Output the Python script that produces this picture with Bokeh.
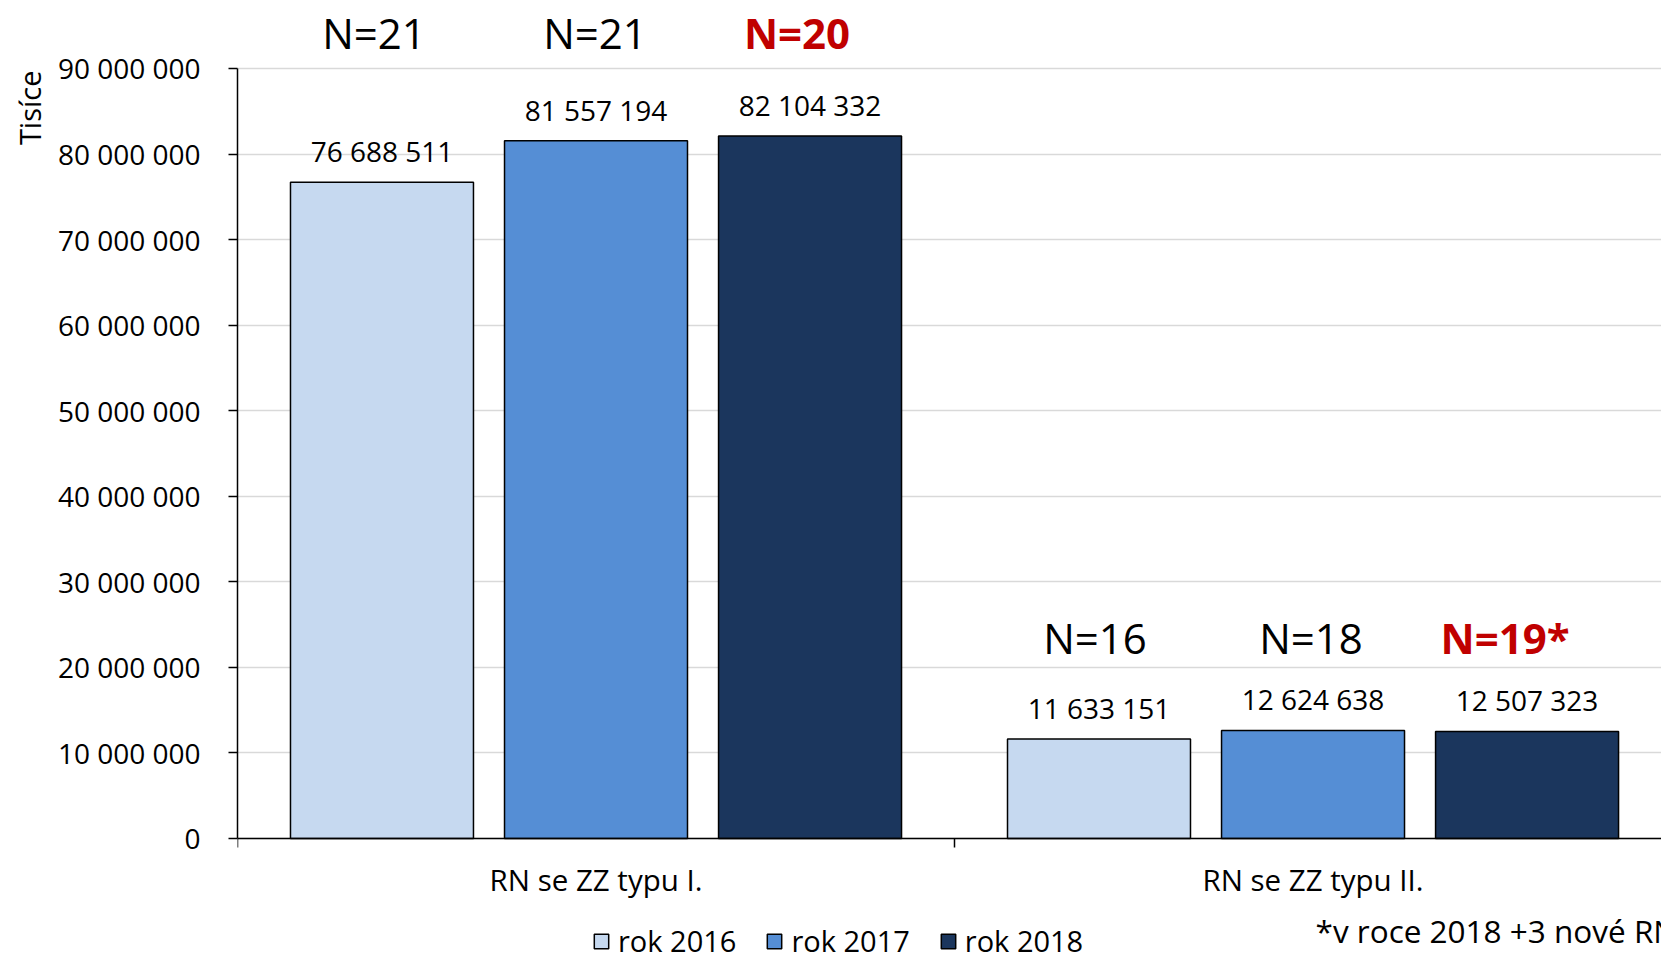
from bokeh.plotting import figure
from bokeh.models import (ColumnDataSource, FixedTicker, LinearAxis, Range1d,
                          Title, Legend, LegendItem)
from bokeh.core.properties import value
from bokeh.embed import file_html
from bokeh.resources import INLINE

# ---------------- data ----------------
categories = ["RN se ZZ typu I.", "RN se ZZ typu II."]
years = ["rok 2016", "rok 2017", "rok 2018"]
v2016 = [76688511, 11633151]
v2017 = [81557194, 12624638]
v2018 = [82104332, 12507323]
n2016 = ["N=21", "N=16"]
n2017 = ["N=21", "N=18"]
n2018 = ["N=20", "N=19*"]
y_ticks = [0, 10000000, 20000000, 30000000, 40000000, 50000000,
           60000000, 70000000, 80000000, 90000000]
y_tick_labels = ["0", "10 000 000", "20 000 000", "30 000 000", "40 000 000",
                 "50 000 000", "60 000 000", "70 000 000", "80 000 000", "90 000 000"]
y_title = "Tisíce"
footnote = "*v roce 2018 +3 nové RN"

# ---------------- style / annotation placement ----------------
colors = ["#C6D9F0", "#558ED5", "#1B365D"]
n_colors = ["black", "black", "#C00000"]
n_styles = ["normal", "normal", "bold"]
FONT = "Open Sans"
N_LABEL_Y = [94.2e6, 23.49e6]          # vertical centre of the N= annotations per category
N_DX = [[-8, -4], [-1, -2], [-13, -22]]  # small horizontal nudges (px) per series
CAT_LABEL_Y = -4.75e6
FOOT_X, FOOT_Y = 1.5035, -10.75e6

series = [v2016, v2017, v2018]
n_texts = [n2016, n2017, n2018]
offsets = [-0.2985, 0.0, 0.2985]
BAR_W = 0.2552

p = figure(width=1661, height=953,
           x_range=Range1d(0, 1.986), y_range=Range1d(-13.441e6, 97.476e6),
           output_backend="svg", toolbar_location=None,
           x_axis_location=None, y_axis_location="left",
           min_border_left=237, min_border_right=0, min_border_top=4,
           min_border_bottom=0)
p.outline_line_color = None
p.background_fill_color = "white"

# grid
p.xgrid.visible = False
p.ygrid.ticker = FixedTicker(ticks=y_ticks)
p.ygrid.grid_line_color = "#D9D9D9"
p.ygrid.grid_line_width = 1.5

# y axis
ya = p.yaxis[0]
ya.ticker = FixedTicker(ticks=y_ticks)
ya.bounds = (0, 90000000)
ya.major_label_overrides = {t: l for t, l in zip(y_ticks, y_tick_labels)}
ya.major_label_text_font = FONT
ya.major_label_text_font_size = "28px"
ya.major_label_text_color = "black"
ya.axis_line_color = "black"
ya.axis_line_width = 1.5
ya.major_tick_line_color = "black"
ya.major_tick_line_width = 1.5
ya.major_tick_out = 9
ya.major_tick_in = 0
ya.minor_tick_line_color = None
ya.major_label_standoff = 28

# x axis: drawn at y = 0, ticks at the category boundaries pointing down
xa = LinearAxis(ticker=FixedTicker(ticks=[0, 1, 2]), fixed_location=0,
                major_label_overrides={0: "", 1: "", 2: ""},
                major_label_text_font_size="0px", major_label_standoff=0,
                axis_line_color="black", axis_line_width=1.5,
                major_tick_line_color="black", major_tick_line_width=1.5,
                major_tick_out=0, major_tick_in=9, minor_tick_line_color=None)
p.add_layout(xa, "above")

# y title
p.add_layout(Title(text=y_title, align="right", offset=66, standoff=11,
                   text_font=FONT, text_font_size="29px",
                   text_font_style="normal", text_color="black"), "left")

# bars + labels
renderers = []
for j in range(3):
    xs = [i + 0.5 + offsets[j] for i in range(len(categories))]
    src = ColumnDataSource(dict(
        x=xs, top=series[j],
        lbl=[f"{v:,}".replace(",", " ") for v in series[j]],
        n=n_texts[j], ny=N_LABEL_Y, dx=N_DX[j]))
    r = p.vbar(x="x", top="top", width=BAR_W, source=src,
               fill_color=colors[j], line_color="black", line_width=1.5)
    renderers.append(r)
    p.text(x="x", y="top", text="lbl", source=src, y_offset=-31,
           text_align="center", text_baseline="middle",
           text_font=value(FONT), text_font_size="28px", text_color="black")
    p.text(x="x", y="ny", text="n", source=src, x_offset="dx",
           text_align="center", text_baseline="middle",
           text_font=value(FONT), text_font_size="42px",
           text_color=n_colors[j], text_font_style=n_styles[j])

# category labels
cat_src = ColumnDataSource(dict(x=[i + 0.5 for i in range(len(categories))],
                                y=[CAT_LABEL_Y] * len(categories), t=categories))
p.text(x="x", y="y", text="t", source=cat_src, text_align="center",
       text_baseline="middle", text_font=value(FONT),
       text_font_size="29.5px", text_color="black")

# footnote
p.text(x=[FOOT_X], y=[FOOT_Y], text=[footnote], text_align="left",
       text_baseline="middle", text_font=value(FONT),
       text_font_size="31.5px", text_color="black")

legend = Legend(items=[LegendItem(label=years[j], renderers=[renderers[j]]) for j in range(3)],
                orientation="horizontal", location=(355, -7),
                glyph_width=18, glyph_height=18, label_standoff=8, spacing=29,
                padding=0, margin=0, border_line_color=None,
                background_fill_alpha=0,
                label_text_font=FONT, label_text_font_size="29px",
                label_text_color="black")
p.add_layout(legend)

open("out.html", "w").write(file_html(p, INLINE))
